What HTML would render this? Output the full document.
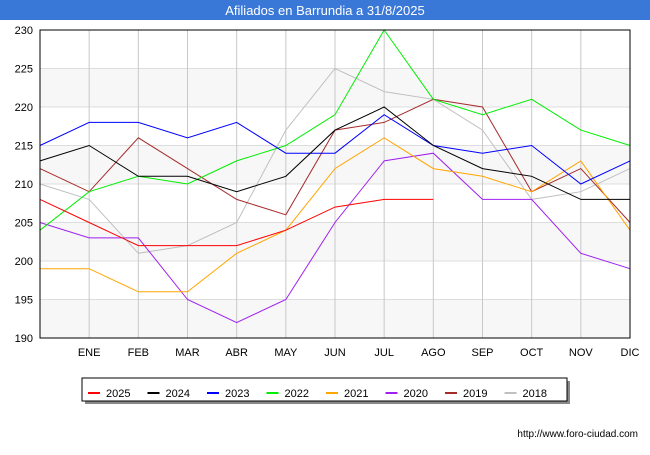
<!DOCTYPE html>
<html><head><meta charset="utf-8"><style>
body{margin:0;width:650px;height:450px;background:#fff;font-family:"Liberation Sans",sans-serif;overflow:hidden}
</style></head><body>
<svg width="650" height="450" xmlns="http://www.w3.org/2000/svg" id="svg">
<rect x="0" y="0" width="650" height="20" fill="#3a78d8"/>
<text x="325" y="15" text-anchor="middle" fill="#fff" font-size="13">Afiliados en Barrundia a 31/8/2025</text>
<g id="grid"></g><g id="lines"></g>
<rect x="40" y="30" width="590" height="308" fill="none" stroke="#000" stroke-width="1"/>
<g id="legend"></g>
<text x="638" y="437" text-anchor="end" font-size="10" fill="#000">http://www.foro-ciudad.com</text>
</svg>
<script>
const months=["","ENE","FEB","MAR","ABR","MAY","JUN","JUL","AGO","SEP","OCT","NOV","DIC"];
const yTicks=[190,195,200,205,210,215,220,225,230];
const seriesNames=["2025","2024","2023","2022","2021","2020","2019","2018"];
const colors=["#ff0000","#000000","#0000ff","#00ee00","#ffa500","#a020f0","#a52a2a","#c0c0c0"];
const s2025=[208,205,202,202,202,204,207,208,208];
const s2024=[213,215,211,211,209,211,217,220,215,212,211,208,208];
const s2023=[215,218,218,216,218,214,214,219,215,214,215,210,213];
const s2022=[204,209,211,210,213,215,219,230,221,219,221,217,215];
const s2021=[199,199,196,196,201,204,212,216,212,211,209,213,204];
const s2020=[205,203,203,195,192,195,205,213,214,208,208,201,199];
const s2019=[212,209,216,212,208,206,217,218,221,220,209,212,205];
const s2018=[210,208,201,202,205,217,225,222,221,217,208,209,212];
const allSeries=[s2025,s2024,s2023,s2022,s2021,s2020,s2019,s2018];
const NS="http://www.w3.org/2000/svg";
const x=i=>40+i*590/12, y=v=>338-(v-190)*308/40;
function mk(t,a,p){const e=document.createElementNS(NS,t);for(const k in a)e.setAttribute(k,a[k]);p.appendChild(e);return e;}
const grid=document.getElementById('grid');
for(let i=0;i<yTicks.length-1;i++){
 if(i%2==0){const r=mk('rect',{x:40,y:y(yTicks[i+1]),width:590,height:y(yTicks[i])-y(yTicks[i+1]),fill:'#f7f7f7'},grid);
 
 }
}
yTicks.forEach(v=>{
 const l=mk('line',{x1:40,x2:630,y1:y(v),y2:y(v),stroke:'#dddddd'},grid);
 
 
 const t=mk('text',{x:33,y:y(v)+4,'text-anchor':'end','font-size':11},grid);t.textContent=v;
 
 
});
months.forEach((m,i)=>{
 if(i>0&&i<12){const l=mk('line',{x1:x(i),x2:x(i),y1:30,y2:338,stroke:'#c8c8c8'},grid);
 
 }
 if(m){const t=mk('text',{x:x(i),y:356,'text-anchor':'middle','font-size':11},grid);t.textContent=m;
 
 }
});
const lines=document.getElementById('lines');
for(let k=allSeries.length-1;k>=0;k--){
 const p=mk('polyline',{points:allSeries[k].map((v,i)=>x(i)+','+y(v)).join(' '),fill:'none',stroke:colors[k],'stroke-width':1},lines);
 
 
}
const lg=document.getElementById('legend');
const sh=mk('rect',{x:85,y:381,width:485,height:23,fill:'#888'},lg);


const box=mk('rect',{x:82,y:378,width:485,height:23,fill:'#fff',stroke:'#000'},lg);


seriesNames.forEach((n,k)=>{
 const lx=88+k*59.5;
 const l=mk('line',{x1:lx,x2:lx+12,y1:393,y2:393,stroke:colors[k],'stroke-width':2},lg);
 
 
 const t=mk('text',{x:lx+18,y:397,'font-size':11},lg);t.textContent=n;
 
 
});
</script>
</body></html>
